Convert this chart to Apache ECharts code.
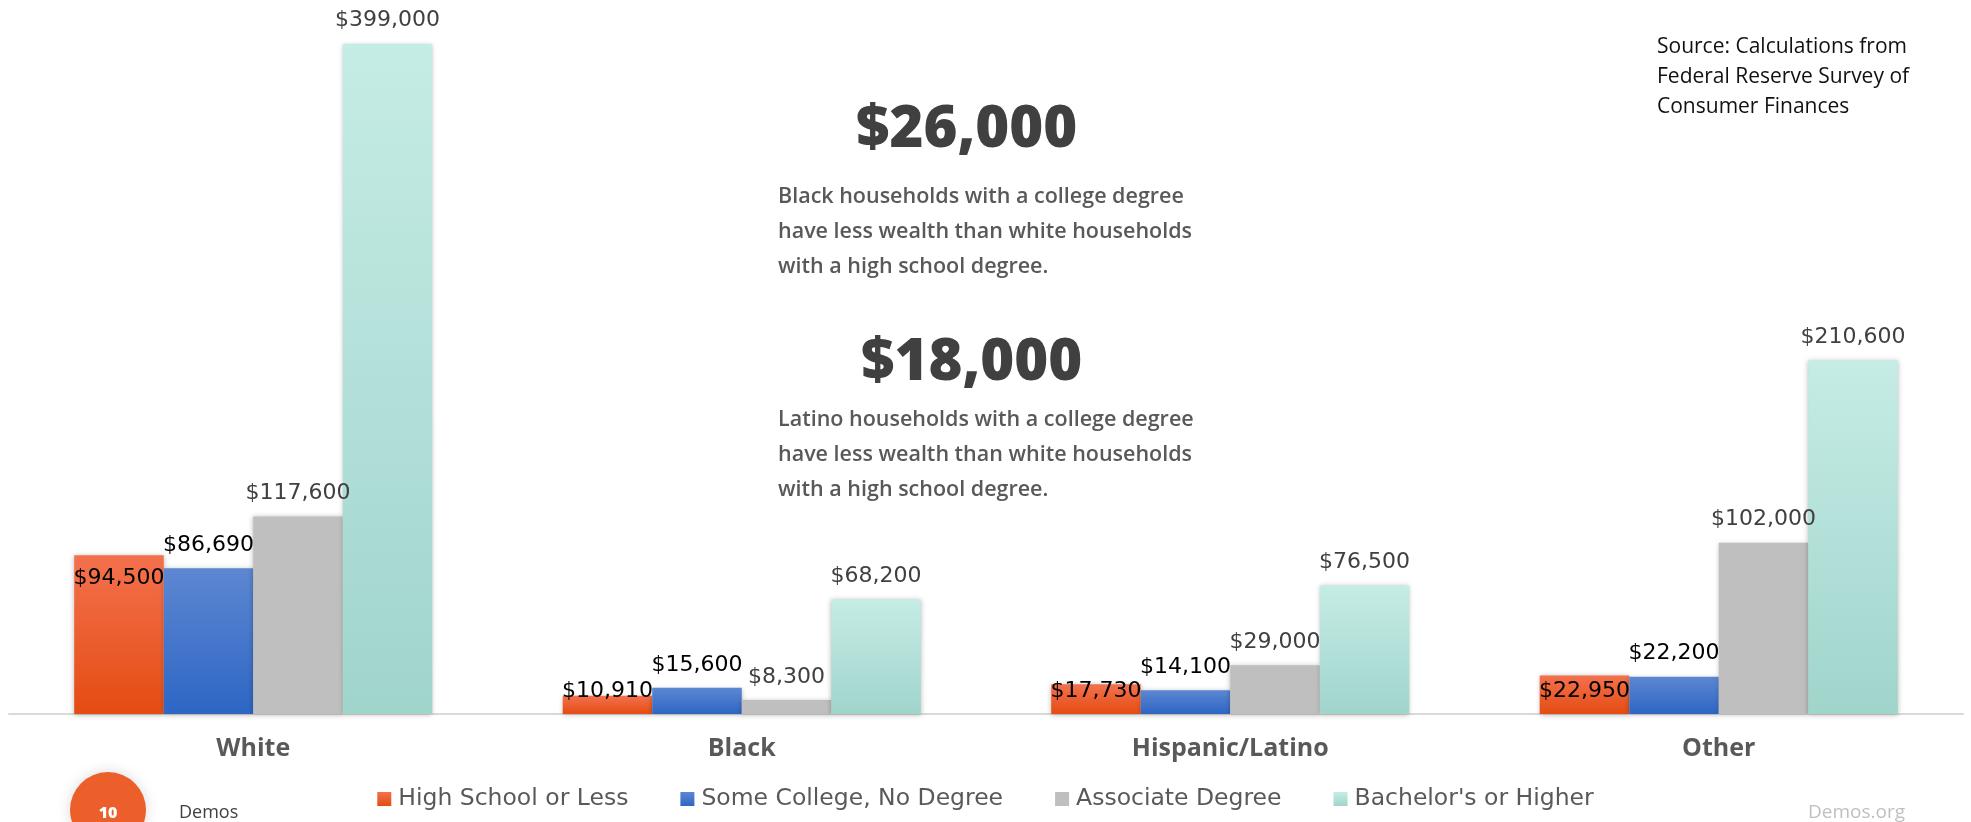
<!DOCTYPE html>
<html>
<head>
<meta charset="utf-8">
<script src="https://cdn.jsdelivr.net/npm/echarts@6/dist/echarts.min.js"></script>
<style>
  html, body { margin: 0; padding: 0; background: #ffffff; }
  #chart { width: 1971px; height: 822px; }
</style>
</head>
<body>
<div id="chart"></div>
<script>
// ===== Wealth by race and education (Demos) =====

const categories = ['White', 'Black', 'Hispanic/Latino', 'Other'];
const seriesNames = ['High School or Less', 'Some College, No Degree', 'Associate Degree', "Bachelor's or Higher"];
const highSchool  = [94500, 10910, 17730, 22950];
const someCollege = [86690, 15600, 14100, 22200];
const associate   = [117600, 8300, 29000, 102000];
const bachelor    = [399000, 68200, 76500, 210600];

const FONT = '"Open Sans","Noto Sans",sans-serif';
const WIDE = '"DejaVu Sans","Open Sans",sans-serif';
const money = v => '$' + v.toLocaleString('en-US');

function grad(top, bottom) {
  return { type: 'linear', x: 0, y: 0, x2: 0, y2: 1,
    colorStops: [{ offset: 0, color: top }, { offset: 1, color: bottom }] };
}

const shadow = { shadowColor: 'rgba(0,0,0,0.28)', shadowBlur: 5, shadowOffsetX: 0, shadowOffsetY: 1 };

function valueLabel(color, extra) {
  return Object.assign({
    show: true, position: 'top', distance: 12,
    color: color, fontFamily: WIDE, fontSize: 22,
    formatter: p => money(p.value)
  }, extra || {});
}

// orange series: label sits inside the top of a tall bar, near the base for short ones
const hsData = highSchool.map(v => ({
  value: v,
  label: v > 50000 ? { position: 'insideTop', distance: 12 } : { position: 'insideBottom', distance: 12 }
}));

const chart = echarts.init(document.getElementById('chart'), null, { renderer: 'canvas' });

chart.setOption({
  backgroundColor: '#ffffff',
  animation: false,
  textStyle: { fontFamily: FONT },
  grid: { left: 9, right: 8, top: 42, bottom: 108 },
  legend: {
    data: seriesNames,
    top: 782,
    left: 'center',
    icon: 'rect',
    itemWidth: 14,
    itemHeight: 14,
    itemGap: 52,
    textStyle: { color: '#595959', fontFamily: WIDE, fontSize: 23.5, padding: [0, 0, 0, 2] }
  },
  xAxis: {
    type: 'category',
    data: categories,
    axisLine: { lineStyle: { color: '#d9d9d9', width: 2 } },
    axisTick: { show: false },
    axisLabel: { color: '#595959', fontFamily: FONT, fontSize: 25, fontWeight: 'bold', margin: 22 }
  },
  yAxis: {
    type: 'value', min: 0, max: 400000, show: false,
    splitLine: { show: false }
  },
  series: [
    {
      name: seriesNames[0], type: 'bar', barGap: '0%', barCategoryGap: '26.7%',
      itemStyle: Object.assign({ color: grad('#f4714e', '#e44c12') }, shadow),
      label: valueLabel('#000000'),
      data: hsData
    },
    {
      name: seriesNames[1], type: 'bar', barGap: '0%', barCategoryGap: '26.7%',
      itemStyle: Object.assign({ color: grad('#5d87d2', '#2d66c4') }, shadow),
      label: valueLabel('#000000'),
      data: someCollege
    },
    {
      name: seriesNames[2], type: 'bar', barGap: '0%', barCategoryGap: '26.7%',
      itemStyle: Object.assign({ color: '#bfbfbf' }, shadow),
      label: valueLabel('#404040'),
      data: associate
    },
    {
      name: seriesNames[3], type: 'bar', barGap: '0%', barCategoryGap: '26.7%',
      itemStyle: Object.assign({ color: grad('#c5ece5', '#a0d5cc') }, shadow),
      label: valueLabel('#404040'),
      data: bachelor
    }
  ],
  graphic: [
    // callouts in the middle
    { type: 'text', left: 856, top: 101, style: { text: '$26,000', fill: '#404040', font: '800 58px ' + FONT } },
    { type: 'text', left: 778, top: 179, style: {
      text: 'Black households with a college degree\nhave less wealth than white households\nwith a high school degree.',
      fill: '#595959', font: '600 21.5px ' + FONT, lineHeight: 35 } },
    { type: 'text', left: 861, top: 334, style: { text: '$18,000', fill: '#404040', font: '800 58px ' + FONT } },
    { type: 'text', left: 778, top: 402, style: {
      text: 'Latino households with a college degree\nhave less wealth than white households\nwith a high school degree.',
      fill: '#595959', font: '600 21.5px ' + FONT, lineHeight: 35 } },
    // source note
    { type: 'text', left: 1657, top: 32, style: {
      text: 'Source: Calculations from\nFederal Reserve Survey of\nConsumer Finances',
      fill: '#111111', font: '21px ' + FONT, lineHeight: 30 } },
    // footer
    { type: 'circle', shape: { cx: 108, cy: 810, r: 38 },
      style: { fill: '#ec5f2a', shadowColor: 'rgba(0,0,0,0.15)', shadowBlur: 14 } },
    { type: 'text', x: 108, y: 813, style: { text: '10', fill: '#ffffff', font: '800 16px ' + FONT, align: 'center', verticalAlign: 'middle' } },
    { type: 'text', x: 179, y: 813, style: { text: 'Demos', fill: '#404040', font: '18px ' + FONT, verticalAlign: 'middle' } },
    { type: 'text', x: 1808, y: 813, style: { text: 'Demos.org', fill: '#bfbfbf', font: '19px ' + FONT, verticalAlign: 'middle' } }
  ]
});
</script>
</body>
</html>
